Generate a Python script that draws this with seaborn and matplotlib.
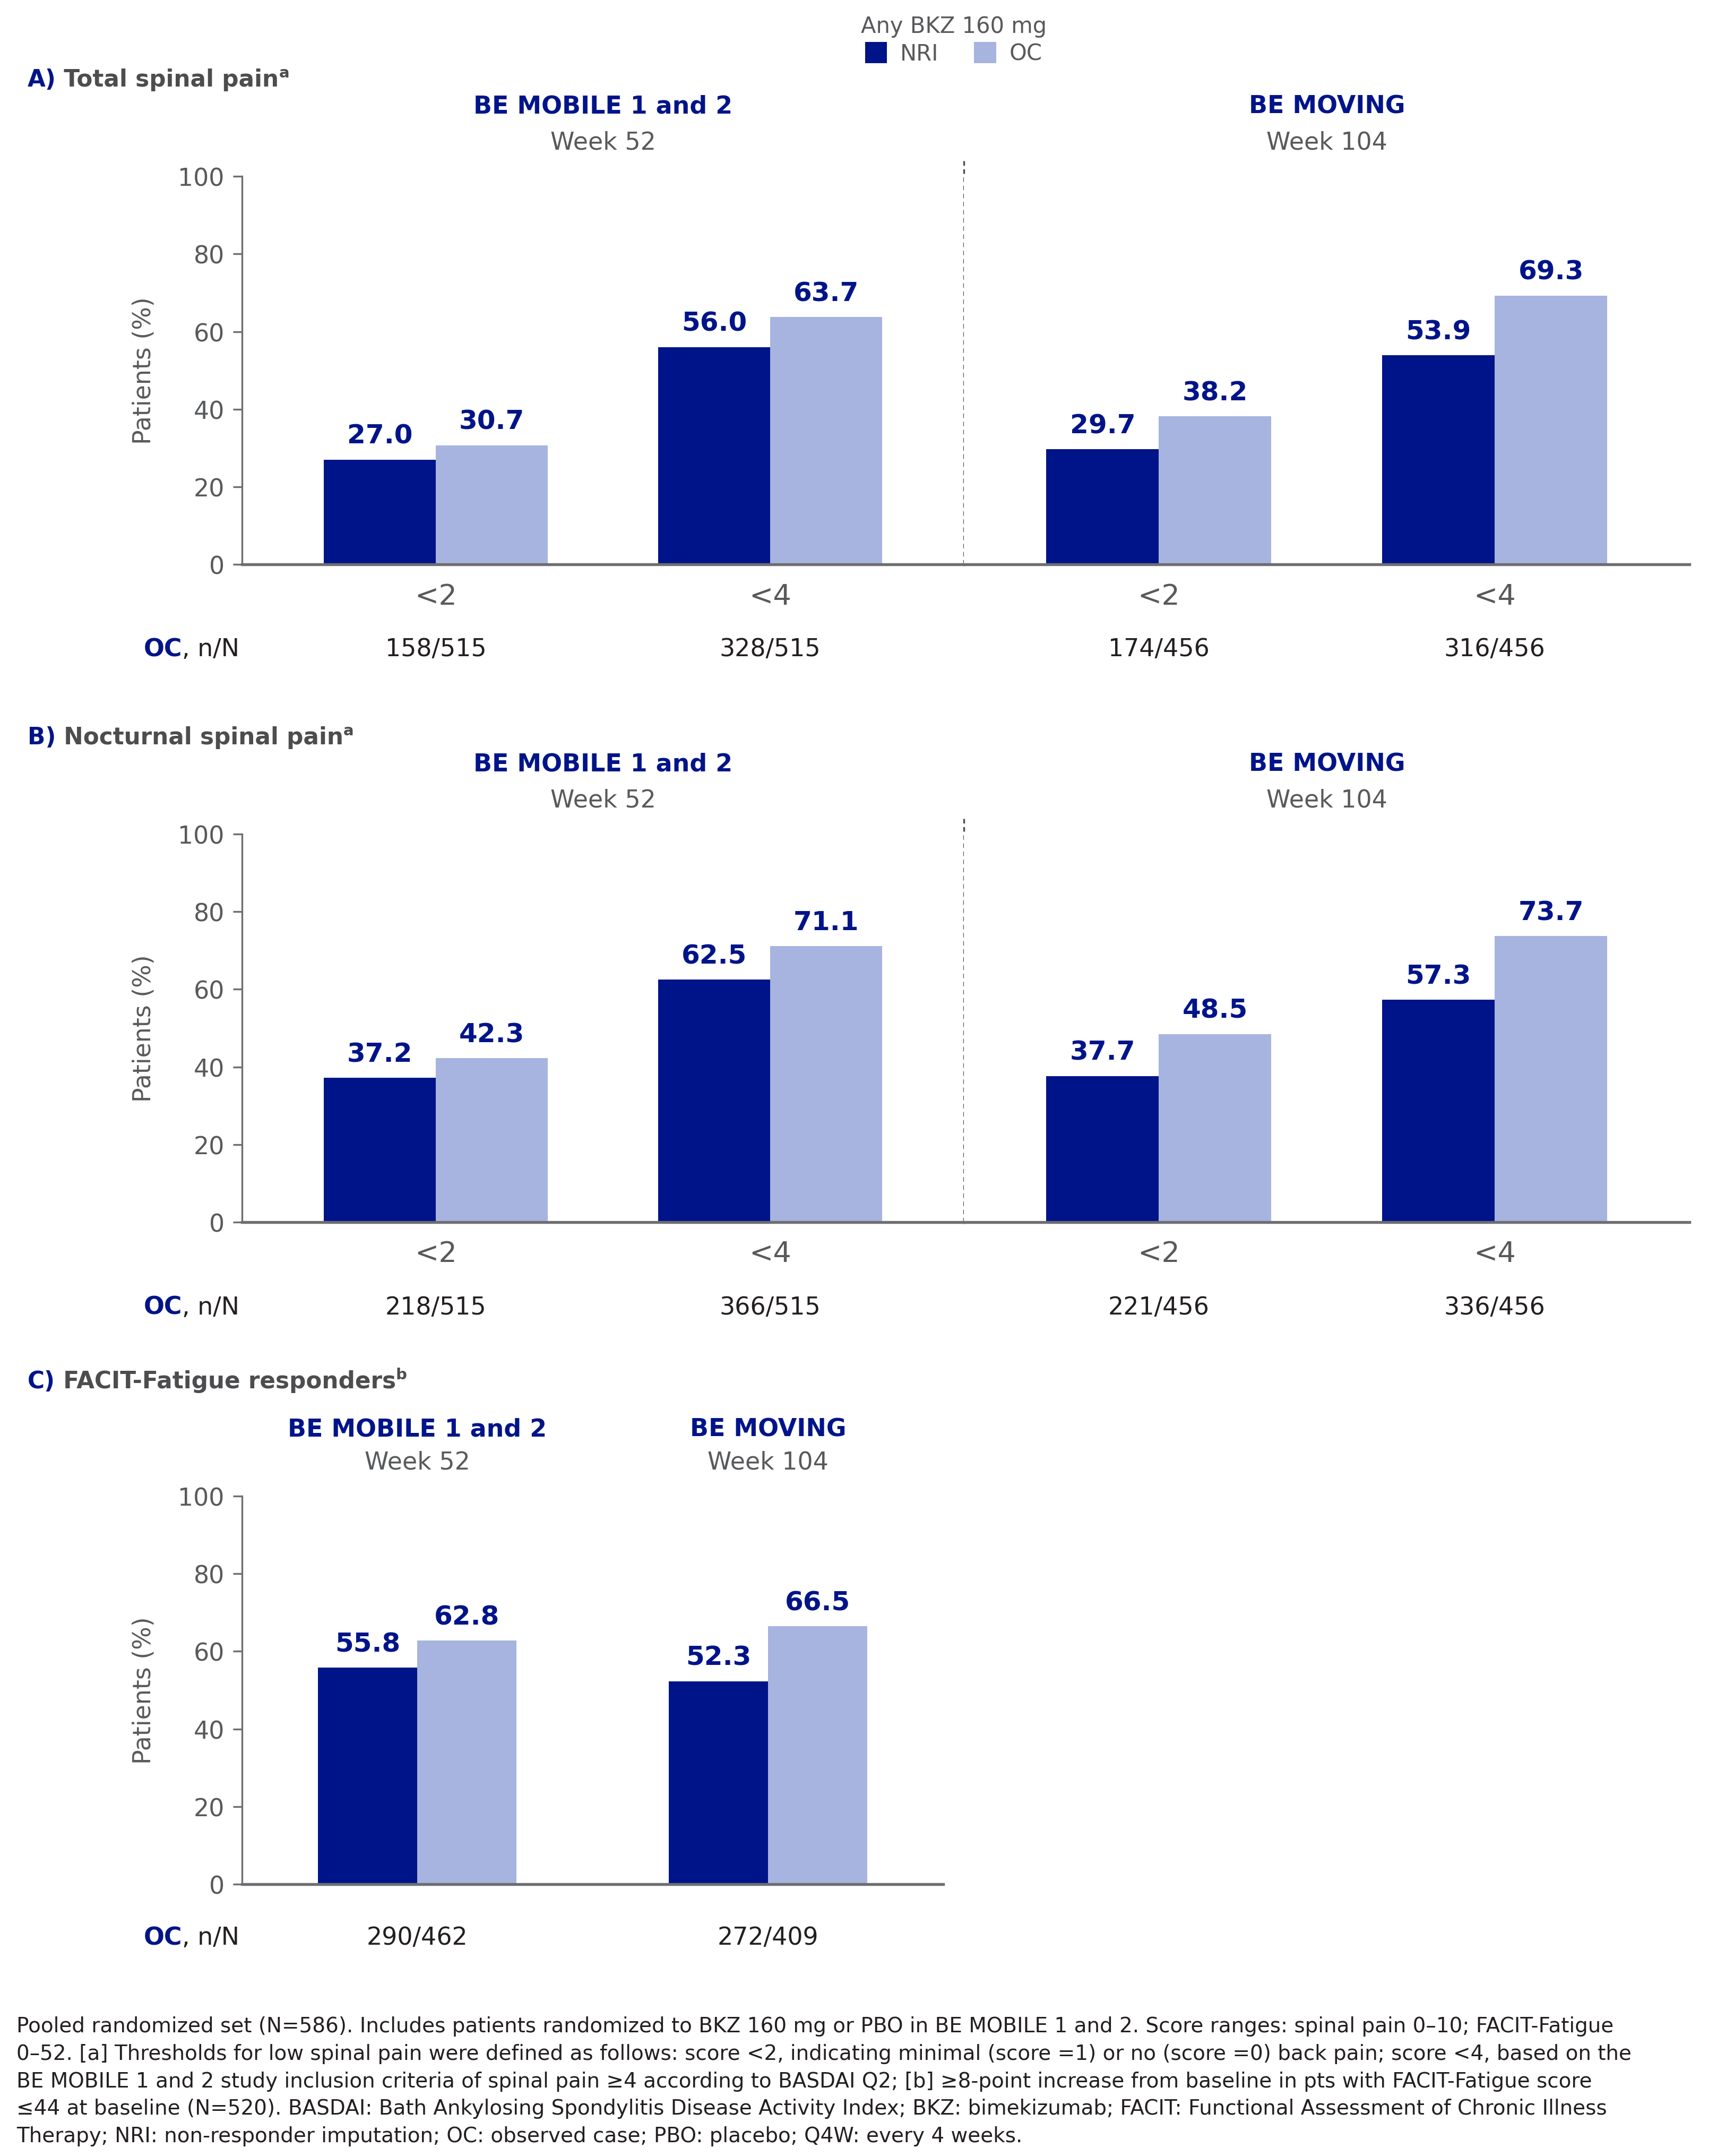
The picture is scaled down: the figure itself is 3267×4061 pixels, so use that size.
import matplotlib.pyplot as plt
import seaborn as sns
import pandas as pd
from matplotlib.patches import Patch
from matplotlib.transforms import blended_transform_factory

NAVY = '#001489'
LIGHT = '#A6B4DF'
GRAY = '#58595B'
DARK = '#231F20'

# ---------------- data ---------------- #
thresholds = ['<2', '<4']
methods = ['NRI', 'OC']
studies = ['BE MOBILE 1 and 2', 'BE MOVING']
weeks = ['Week 52', 'Week 104']

a_mobile_nri = [27.0, 56.0]
a_mobile_oc = [30.7, 63.7]
a_moving_nri = [29.7, 53.9]
a_moving_oc = [38.2, 69.3]
a_mobile_n = ['158/515', '328/515']
a_moving_n = ['174/456', '316/456']

b_mobile_nri = [37.2, 62.5]
b_mobile_oc = [42.3, 71.1]
b_moving_nri = [37.7, 57.3]
b_moving_oc = [48.5, 73.7]
b_mobile_n = ['218/515', '366/515']
b_moving_n = ['221/456', '336/456']

c_nri = [55.8, 52.3]
c_oc = [62.8, 66.5]
c_n = ['290/462', '272/409']

footnote = ("Pooled randomized set (N=586). Includes patients randomized to BKZ 160 mg or PBO in BE MOBILE 1 and 2. Score ranges: spinal pain 0\u201310; FACIT-Fatigue\n"
            "0\u201352. [a] Thresholds for low spinal pain were defined as follows: score <2, indicating minimal (score =1) or no (score =0) back pain; score <4, based on the\n"
            "BE MOBILE 1 and 2 study inclusion criteria of spinal pain \u22654 according to BASDAI Q2; [b] \u22658-point increase from baseline in pts with FACIT-Fatigue score\n"
            "\u226444 at baseline (N=520). BASDAI: Bath Ankylosing Spondylitis Disease Activity Index; BKZ: bimekizumab; FACIT: Functional Assessment of Chronic Illness\n"
            "Therapy; NRI: non-responder imputation; OC: observed case; PBO: placebo; Q4W: every 4 weeks.")


def frame(cats, nri, oc):
    return pd.DataFrame({'cat': cats * 2,
                         'method': ['NRI'] * len(cats) + ['OC'] * len(cats),
                         'value': nri + oc})


sns.set_style('white')
plt.rcParams['font.family'] = ['DejaVu Sans']

fig = plt.figure(figsize=(10.89, 13.54), dpi=300)


def bars(ax, df, width, xlim, left=True):
    sns.barplot(data=df, x='cat', y='value', hue='method', order=list(dict.fromkeys(df['cat'])),
                palette=[NAVY, LIGHT], width=width, saturation=1, ax=ax,
                legend=False, edgecolor='none', linewidth=0)
    for c in ax.containers:
        ax.bar_label(c, fmt='%.1f', padding=5, color=NAVY, fontsize=12, fontweight='bold')
    ax.set_ylim(0, 100)
    ax.set_xlim(*xlim)
    ax.set_xlabel('')
    ax.set_ylabel('')
    ax.set_yticks([0, 20, 40, 60, 80, 100])
    for s in ['top', 'right']:
        ax.spines[s].set_visible(False)
    ax.spines['bottom'].set_color('#6d6e71')
    ax.spines['bottom'].set_linewidth(1.3)
    ax.spines['left'].set_color('#6d6e71')
    ax.spines['left'].set_linewidth(0.8)
    ax.tick_params(axis='x', length=0, pad=8, labelsize=13, labelcolor=GRAY)
    ax.tick_params(axis='y', length=4, width=0.8, color='#6d6e71', labelsize=11,
                   labelcolor=GRAY, pad=4, left=True)
    if left:
        ax.set_ylabel('Patients (%)', fontsize=11, color=GRAY, labelpad=10)
    else:
        ax.spines['left'].set_visible(False)
        ax.tick_params(axis='y', left=False, labelleft=False)


def header(ax, x, y, study, week, trans):
    ax.text(x, y[0], study, transform=trans, ha='center', va='center',
            color=NAVY, fontsize=11, fontweight='bold')
    ax.text(x, y[1], week, transform=trans, ha='center', va='center',
            color=GRAY, fontsize=11)


def nrow(ax, labels, y):
    tr = blended_transform_factory(ax.transData, fig.transFigure)
    for i, s in enumerate(labels):
        ax.text(i, y, s, transform=tr, ha='center', va='center', color=DARK, fontsize=11)


def chain(ax, x, y, parts):
    t = fig.text(x, y, parts[0][0], va='center', **parts[0][1])
    for s, kw in parts[1:]:
        sup = kw.pop('sup', False)
        t = ax.annotate(s, xy=(1, 0.45 if sup else 0), xycoords=t,
                        va='bottom', ha='left', annotation_clip=False, **kw)
    return t


def panel(y0, letter, title, sup, data, nlabels, row_y):
    L, W, H = 0.1396, 0.4164, 0.180
    axl = fig.add_axes([L, y0, W, H])
    axr = fig.add_axes([L + W, y0, W + 0.002, H])
    xl = (-0.58, 1.58)
    bars(axl, frame(thresholds, data[0], data[1]), 0.67, xl, left=True)
    bars(axr, frame(thresholds, data[2], data[3]), 0.67, xl, left=False)
    axl.plot([1, 1], [0, 1.04], transform=axl.transAxes, clip_on=False,
             color='#4d4d4f', lw=0.8, ls=(0, (2.6, 2.0)))
    for ax, st, wk in [(axl, studies[0], weeks[0]), (axr, studies[1], weeks[1])]:
        header(ax, 0.5, (1.180, 1.087), st, wk, ax.transAxes)
    nrow(axl, nlabels[0], row_y)
    nrow(axr, nlabels[1], row_y)
    chain(axl, 0.0158, y0 + H + 0.045,
          [(letter, dict(color=NAVY, fontsize=10.5, fontweight='bold')),
           (' ' + title, dict(color='#4d4d4f', fontsize=10.5, fontweight='bold')),
           (sup, dict(color='#4d4d4f', fontsize=7, fontweight='bold', sup=True))])
    chain(axl, 0.0828, row_y,
          [('OC', dict(color=NAVY, fontsize=11, fontweight='bold')),
           (', n/N', dict(color=DARK, fontsize=11))])
    return axl, axr


panel(0.738, 'A)', 'Total spinal pain', 'a',
      [a_mobile_nri, a_mobile_oc, a_moving_nri, a_moving_oc],
      [a_mobile_n, a_moving_n], 0.6987)
panel(0.433, 'B)', 'Nocturnal spinal pain', 'a',
      [b_mobile_nri, b_mobile_oc, b_moving_nri, b_moving_oc],
      [b_mobile_n, b_moving_n], 0.3936)

# ---------------- panel C ---------------- #
axc = fig.add_axes([0.1396, 0.126, 0.4044, 0.180])
bars(axc, frame(studies, c_nri, c_oc), 0.566, (-0.5, 1.5), left=True)
axc.tick_params(axis='x', labelbottom=False)
trc = blended_transform_factory(axc.transData, axc.transAxes)
for i in range(2):
    header(axc, i, (1.172, 1.088), studies[i], weeks[i], trc)
nrow(axc, c_n, 0.1012)
chain(axc, 0.0158, 0.3594,
      [('C)', dict(color=NAVY, fontsize=10.5, fontweight='bold')),
       (' FACIT-Fatigue responders', dict(color='#4d4d4f', fontsize=10.5, fontweight='bold')),
       ('b', dict(color='#4d4d4f', fontsize=7, fontweight='bold', sup=True))])
chain(axc, 0.0828, 0.1012,
      [('OC', dict(color=NAVY, fontsize=11, fontweight='bold')),
       (', n/N', dict(color=DARK, fontsize=11))])

# ---------------- legend ---------------- #
handles = [Patch(facecolor=NAVY, edgecolor='none'), Patch(facecolor=LIGHT, edgecolor='none')]
leg = fig.legend(handles, methods, title='Any BKZ 160 mg', ncol=2, loc='upper center',
                 bbox_to_anchor=(0.55, 1.0), frameon=False, fontsize=10,
                 title_fontsize=10, handlelength=1.0, handleheight=1.1,
                 handletextpad=0.6, columnspacing=1.6, borderpad=0.2, labelspacing=0.2)
leg.get_title().set_color(GRAY)
for t in leg.get_texts():
    t.set_color(GRAY)

fig.text(0.0095, 0.0650, footnote, ha='left', va='top', fontsize=9.35, color=DARK,
         linespacing=1.46)

fig.savefig('out.png', dpi=300)
